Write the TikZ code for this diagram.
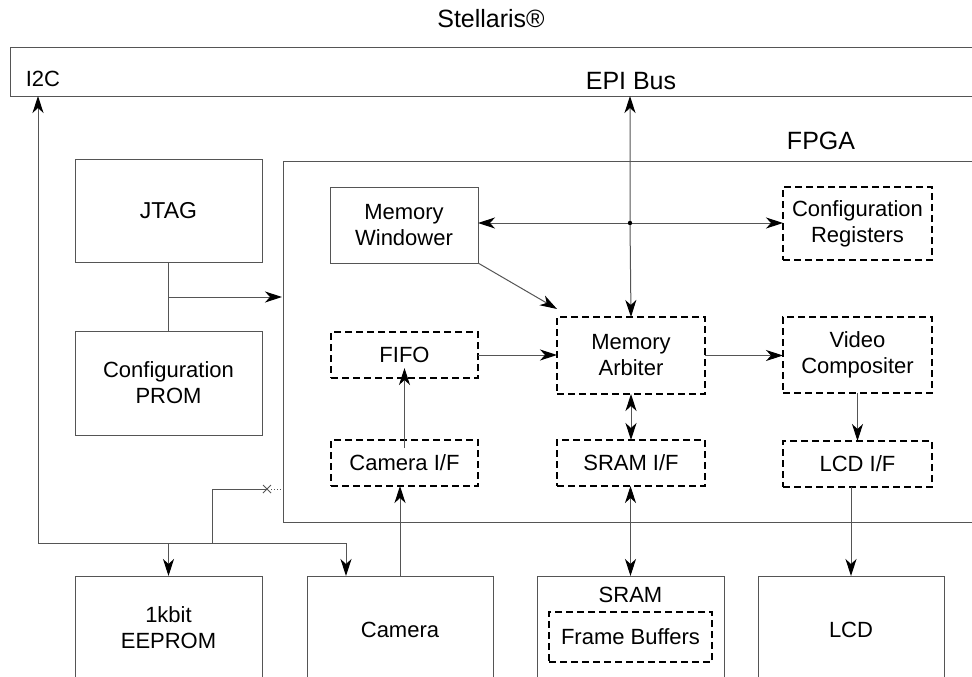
\documentclass[tikz,border=0pt]{standalone}
\usepackage{fontspec}
\setmainfont{Liberation Sans}
\usetikzlibrary{arrows.meta}
\definecolor{lc}{RGB}{85,85,85}
\begin{document}
\begin{tikzpicture}[x=1pt,y=-1pt,
  every node/.style={font=\fontsize{22}{26}\selectfont, align=center, inner sep=0pt, outer sep=0pt},
  biglabel/.style={font=\fontsize{25}{30}\selectfont},
  sbox/.style={draw=lc, line width=1pt},
  dbox/.style={draw=black, line width=2pt, dash pattern=on 7pt off 4pt},
  conn/.style={draw=lc, line width=1pt},
  tip/.tip={Stealth[length=17pt,width=11pt,inset=5pt,color=black]},
  arr/.style={conn, -tip},
  darr/.style={conn, tip-tip},
]
\useasboundingbox (0,0) rectangle (972,677);

% outer containers
\draw[sbox] (972,48) -- (10,48) -- (10,96) -- (972,96);
\draw[sbox] (972,161) -- (283,161) -- (283,522) -- (972,522);

% labels
\node[biglabel] (stell) at (491,19) {Stellaris®};
\node (i2c) at (43,79) {I2C};
\node[biglabel] (epi) at (631,81) {EPI Bus};
\node[biglabel] (fpgal) at (821,141) {FPGA};

% left boxes
\node[sbox, minimum width=187pt, minimum height=103pt, font=\fontsize{23}{27}\selectfont] (jtag) at (168.5,210.5) {JTAG};
\node[sbox, minimum width=187pt, minimum height=104pt] (prom) at (168.5,383) {Configuration\\PROM};

% FPGA internals
\node[sbox, minimum width=148pt, minimum height=76pt] (memwin) at (404,225) {Memory\\Windower};
\node[dbox, minimum width=149pt, minimum height=73pt] (confreg) at (857.5,223.5) {Configuration\\Registers};
\node[dbox, minimum width=147pt, minimum height=46pt] (fifo) at (404.5,355) {FIFO};
\node[dbox, minimum width=148pt, minimum height=77pt] (arb) at (631,355.5) {Memory\\Arbiter};
\node[dbox, minimum width=149pt, minimum height=76pt] (vcomp) at (857.5,355) {Video\\Compositer};
\node[dbox, minimum width=147pt, minimum height=46pt] (camif) at (404.5,463) {Camera I/F};
\node[dbox, minimum width=148pt, minimum height=46pt] (sramif) at (631,463) {SRAM I/F};
\node[dbox, minimum width=149pt, minimum height=46pt] (lcdif) at (857.5,464) {LCD I/F};

% bottom boxes (cut by lower edge)
\node[sbox, minimum width=187pt, minimum height=130pt, anchor=north] (eeprom) at (168.5,576) {};
\node[sbox, minimum width=186pt, minimum height=130pt, anchor=north] (camera) at (400,576) {};
\node[sbox, minimum width=187pt, minimum height=130pt, anchor=north] (sram) at (630.5,576) {};
\node[sbox, minimum width=186pt, minimum height=130pt, anchor=north] (lcd) at (851,576) {};
\node (eepromt) at (168.5,628) {1kbit\\EEPROM};
\node (camerat) at (400,630) {Camera};
\node (sramt) at (630.5,595) {SRAM};
\node (lcdt) at (851,630) {LCD};
\node[dbox, minimum width=163pt, minimum height=50pt] (fbuf) at (630.5,637) {Frame Buffers};

% coordinates
\coordinate (i2cport) at (38,96);
\coordinate (epiport) at (630,96);
\coordinate (jp) at (168.5,297);
\coordinate (fpgain) at (282,297);
\coordinate (hub) at (630,223);
\coordinate (i2cbus) at (38,543);
\coordinate (eebus) at (168.5,543);
\coordinate (cambus) at (346,543);
\coordinate (camtop) at (346,576);
\coordinate (brA) at (212,543);
\coordinate (brB) at (212,489);
\coordinate (xm) at (267,489);
\coordinate (fpgaedge) at (283,489);

% connectors
\draw[conn] (jtag.south) -- (prom.north);
\draw[arr] (jp) -- (fpgain);
\draw[darr] (epiport) -- (hub) -- (arb.north);
\draw[darr] (memwin.east |- hub) -- (confreg.west |- hub);
\fill (hub) circle (2.2pt);
\draw[arr] (memwin.south east) -- (557,309);
\draw[arr] (fifo.east) -- (arb.west |- fifo.east);
\draw[arr] (arb.east) -- (vcomp.west |- arb.east);
\draw[arr] ([yshift=-8pt]camif.north) -- ([yshift=10pt]fifo.south);
\draw[darr] (arb.south) -- (sramif.north);
\draw[arr] (vcomp.south -| lcdif.north) -- (lcdif.north);
\draw[arr] (camera.north) -- (camera.north |- camif.south);
\draw[darr] (sramif.south -| sram.north) -- (sram.north);
\draw[arr] (lcdif.south -| lcd.north) -- (lcd.north);

% I2C wiring
\draw[arr] (i2cbus) -- (i2cport);
\draw[conn] (i2cbus) -- (cambus);
\draw[arr] (eebus) -- (eeprom.north);
\draw[arr] (cambus) -- (camtop);
\draw[conn] (brA) -- (brB) -- (xm);
\draw[conn] ([shift={(-4,-4)}]xm) -- ([shift={(4,4)}]xm) ([shift={(-4,4)}]xm) -- ([shift={(4,-4)}]xm);
\draw[lc, line width=1pt, dotted] ([xshift=4pt]xm) -- (fpgaedge);
\end{tikzpicture}
\end{document}
